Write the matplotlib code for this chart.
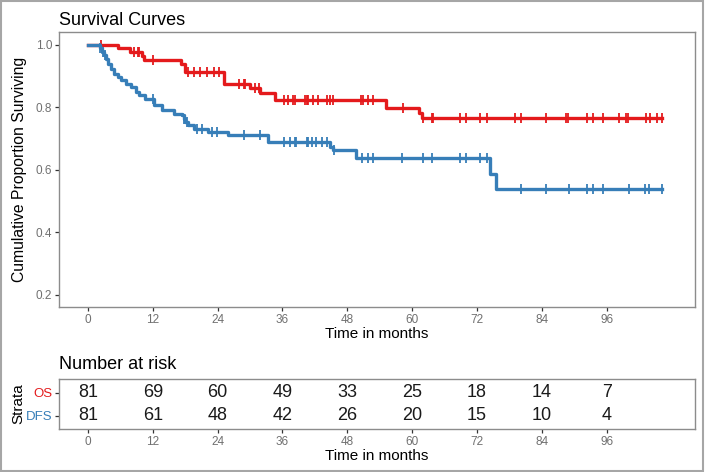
import numpy as np
import matplotlib
matplotlib.use("Agg")
import matplotlib.pyplot as plt
from matplotlib.patches import Rectangle

plt.rcParams['font.family'] = ['Liberation Sans', 'DejaVu Sans']

# Kaplan-Meier step points (months, survival)
os_time = [0, 5.5, 7.8, 10.0, 10.4, 17.3, 18.0, 25.1, 30.0, 31.9, 34.7, 55.2, 61.2, 61.8, 106.3]
os_surv = [1.0, 0.988, 0.975, 0.962, 0.950, 0.937, 0.912, 0.875, 0.862, 0.846, 0.824, 0.796, 0.780, 0.765, 0.765]
os_cens = [2.5, 8.5, 9.2, 9.5, 12.0, 18.6, 19.6, 20.8, 22.0, 23.3, 24.2, 27.9, 28.8, 29.1, 31.0, 31.6,
           36.2, 37.1, 38.0, 38.3, 40.2, 40.5, 40.8, 41.7, 42.6, 44.2, 44.8, 45.4, 50.5, 51.0, 51.9, 52.8,
           58.3, 62.0, 63.6, 63.8, 68.8, 70.0, 72.5, 73.8, 79.0, 80.2, 84.7, 88.4, 88.8, 92.4, 93.4, 95.3,
           98.3, 99.6, 100.0, 103.3, 104.1, 105.4, 106.3]

dfs_time = [0, 2.2, 2.6, 2.95, 3.4, 3.8, 4.2, 4.8, 5.5, 6.2, 7.1, 8.0, 8.9, 9.5, 10.5, 12.3, 13.7, 15.9,
            17.4, 17.7, 18.0, 18.6, 19.6, 22.3, 26.0, 33.4, 44.8, 45.4, 49.7, 74.4, 75.6, 106.3]
dfs_surv = [1.0, 0.988, 0.977, 0.966, 0.955, 0.939, 0.923, 0.907, 0.897, 0.886, 0.875, 0.865, 0.849, 0.838,
            0.827, 0.806, 0.790, 0.779, 0.773, 0.763, 0.752, 0.743, 0.731, 0.720, 0.709, 0.688, 0.672, 0.662,
            0.637, 0.587, 0.538, 0.538]
dfs_cens = [2.3, 2.8, 3.2, 12.0, 17.7, 18.3, 20.2, 21.1, 23.0, 23.9, 28.8, 31.8, 36.2, 37.4, 38.3, 38.5,
            40.5, 40.7, 41.4, 42.3, 43.3, 44.2, 45.6, 50.7, 51.9, 52.8, 58.2, 62.0, 63.6, 68.8, 70.0, 72.5,
            73.8, 80.1, 84.7, 89.0, 92.4, 93.4, 95.3, 100.1, 103.1, 103.9, 106.3]

# number at risk table
risk_times = [0, 12, 24, 36, 48, 60, 72, 84, 96]
os_risk = [81, 69, 60, 49, 33, 25, 18, 14, 7]
dfs_risk = [81, 61, 48, 42, 26, 20, 15, 10, 4]

red = '#E41A1C'
blue = '#377EB8'
frame_col = '#8c8c8c'
tick_col = '#707070'
xticks = np.arange(0, 97, 12)
xlim = (-5.35, 112.35)

fig = plt.figure(figsize=(7.05, 4.72), dpi=100)
fig.patches.append(Rectangle((0.002, 0.003), 0.995, 0.994, transform=fig.transFigure,
                             fill=False, edgecolor='#a6a6a6', lw=1.5))


def style_axes(ax):
    for s in ax.spines.values():
        s.set_color(frame_col)
        s.set_linewidth(1.0)
    ax.tick_params(colors='#333333', labelcolor=tick_col, labelsize=8.5, length=3, width=0.9, pad=2)


def surv_at(times, survs, pts):
    idx = np.searchsorted(times, pts, side='right') - 1
    return np.array(survs)[idx]


# main survival plot
ax = fig.add_axes([59 / 705, 1 - 307 / 472, 636 / 705, 275 / 472])
for t, s, c, col in [(os_time, os_surv, os_cens, red), (dfs_time, dfs_surv, dfs_cens, blue)]:
    ax.step(t, s, where='post', color=col, lw=2.4)
    ax.plot(c, surv_at(t, s, c), ls='none', marker='|', ms=6.5, mew=1.3, color=col)
ax.set_xlim(*xlim)
ax.set_ylim(0.16, 1.04)
ax.set_xticks(xticks)
ax.set_yticks([0.2, 0.4, 0.6, 0.8, 1.0])
ax.set_yticklabels(['0.2', '0.4', '0.6', '0.8', '1.0'])
style_axes(ax)
ax.set_xlabel('Time in months', fontsize=11, labelpad=1)
ax.set_ylabel('Cumulative Proportion Surviving', fontsize=11.3, labelpad=6)
ax.set_title('Survival Curves', fontsize=13, loc='left', pad=5)

# risk table
rt = fig.add_axes([59 / 705, 1 - 429 / 472, 636 / 705, 50 / 472])
for x, a, b in zip(risk_times, os_risk, dfs_risk):
    rt.text(x, 2, str(a), ha='center', va='center', fontsize=13, color='#1a1a1a')
    rt.text(x, 1, str(b), ha='center', va='center', fontsize=13, color='#1a1a1a')
rt.set_xlim(*xlim)
rt.set_ylim(0.42, 2.6)
rt.set_xticks(xticks)
rt.set_yticks([1, 2])
rt.set_yticklabels(['DFS', 'OS'])
style_axes(rt)
rt.get_yticklabels()[0].set_color(blue)
rt.get_yticklabels()[1].set_color(red)
rt.tick_params(axis='y', labelsize=9.5)
rt.set_xlabel('Time in months', fontsize=11, labelpad=1)
rt.set_ylabel('Strata', fontsize=11, labelpad=0)
rt.set_title('Number at risk', fontsize=13, loc='left', pad=7)

fig.savefig('out.png', dpi=100)
